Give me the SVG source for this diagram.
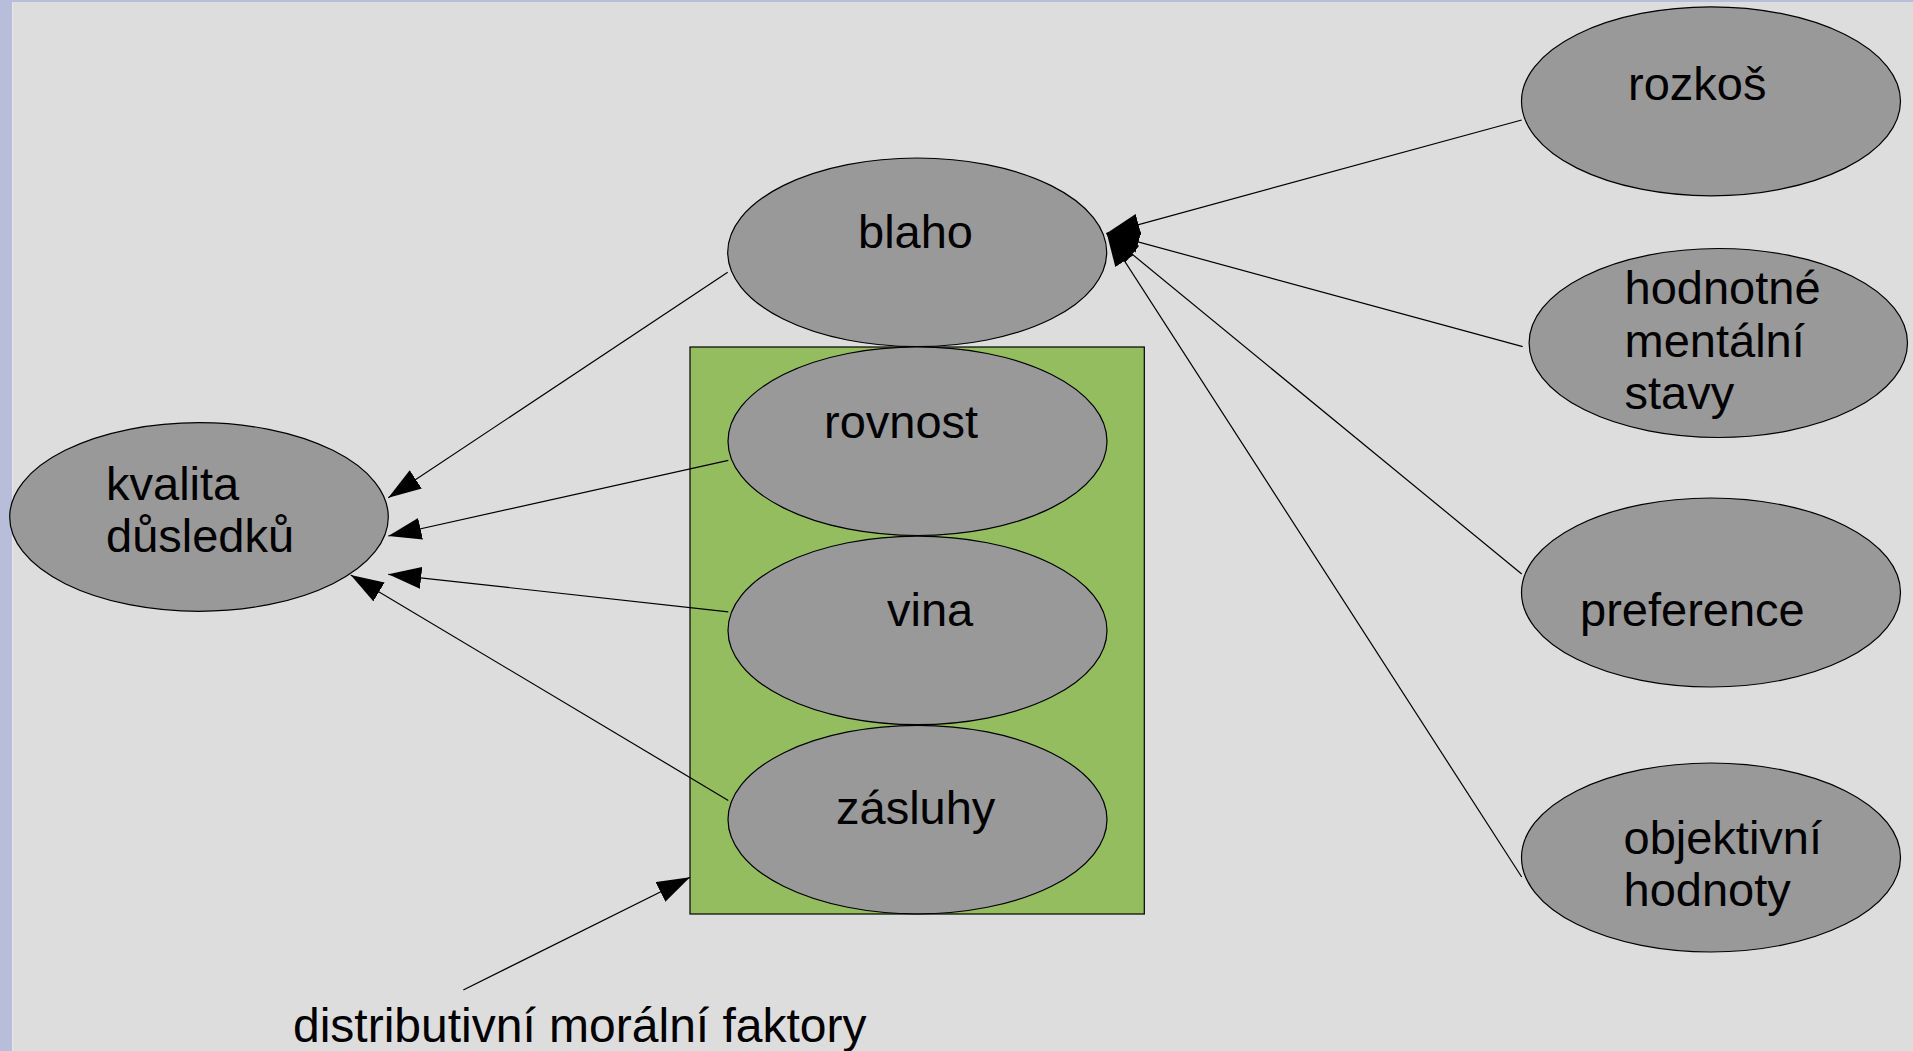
<svg xmlns="http://www.w3.org/2000/svg" width="1913" height="1051" viewBox="0 0 1913 1051">
<style>
.node ellipse{fill:#999999;stroke:#000;stroke-width:1.2}
.node text,.label{font-family:"Liberation Sans",Arial,sans-serif;font-size:47px;fill:#000}
.label{font-size:48px}
.conn line{stroke:#000;stroke-width:1.2}
</style>
<defs>
<marker id="arr" viewBox="0 0 33 22" refX="33" refY="11" markerWidth="33" markerHeight="22" markerUnits="userSpaceOnUse" orient="auto">
<path d="M0,0 L33,11 L0,22 z" fill="#000"/>
</marker>
</defs>
<rect x="0" y="0" width="1913" height="1051" fill="#dddddd"/>
<rect x="0" y="0" width="1913" height="2" fill="#b8bdd9"/>
<rect x="0" y="0" width="12" height="1051" fill="#b8bdd9"/>
<rect x="12" y="2" width="1" height="1049" fill="#e6e6e6"/>

<g id="group-distributive">
<rect x="690" y="347" width="454.3" height="567" fill="#93bd5f" stroke="#000" stroke-width="1.2"/>
</g>

<g id="kvalita" class="node">
<ellipse cx="199" cy="517" rx="189.3" ry="94.3"/>
<text x="106" y="500">kvalita</text>
<text x="106" y="552">důsledků</text>
</g>
<g id="blaho" class="node">
<ellipse cx="917.2" cy="252.3" rx="189.5" ry="94.3"/>
<text x="858" y="248">blaho</text>
</g>
<g id="rovnost" class="node">
<ellipse cx="917.5" cy="441.2" rx="189.5" ry="94.3"/>
<text x="824" y="437.5">rovnost</text>
</g>
<g id="vina" class="node">
<ellipse cx="917.5" cy="630.4" rx="189.5" ry="94.3"/>
<text x="887" y="626">vina</text>
</g>
<g id="zasluhy" class="node">
<ellipse cx="917.5" cy="819.6" rx="189.5" ry="94.3"/>
<text x="836" y="824">zásluhy</text>
</g>
<g id="rozkos" class="node">
<ellipse cx="1711" cy="101.3" rx="189.5" ry="94.5"/>
<text x="1628" y="100">rozkoš</text>
</g>
<g id="hodnotne" class="node">
<ellipse cx="1718.3" cy="343" rx="189.2" ry="94.5"/>
<text x="1624.5" y="304">hodnotné</text>
<text x="1624.5" y="356.5">mentální</text>
<text x="1624.5" y="409">stavy</text>
</g>
<g id="preference" class="node">
<ellipse cx="1711" cy="592.5" rx="189.5" ry="94.5"/>
<text x="1580" y="626">preference</text>
</g>
<g id="objektivni" class="node">
<ellipse cx="1711" cy="857.5" rx="189.5" ry="94.5"/>
<text x="1623.5" y="853.5">objektivní</text>
<text x="1623.5" y="906">hodnoty</text>
</g>
<g id="distributivni-label">
<text class="label" x="293" y="1042">distributivní morální faktory</text>
</g>

<g id="connectors" class="conn">
<line x1="727.7" y1="272.3" x2="388.3" y2="497.7" marker-end="url(#arr)"/>
<line x1="728.3" y1="460.4" x2="388.3" y2="536" marker-end="url(#arr)"/>
<line x1="728.3" y1="611.8" x2="388.3" y2="574.3" marker-end="url(#arr)"/>
<line x1="728.3" y1="800.4" x2="350.7" y2="575" marker-end="url(#arr)"/>
<line x1="463.3" y1="990" x2="690" y2="877.3" marker-end="url(#arr)"/>
<line x1="1521.7" y1="120" x2="1106.7" y2="233.3" marker-end="url(#arr)"/>
<line x1="1522.7" y1="346.7" x2="1106.7" y2="233.3" marker-end="url(#arr)"/>
<line x1="1521.7" y1="574" x2="1106.7" y2="233.3" marker-end="url(#arr)"/>
<line x1="1521.7" y1="877" x2="1106.7" y2="233.3" marker-end="url(#arr)"/>
</g>
</svg>
